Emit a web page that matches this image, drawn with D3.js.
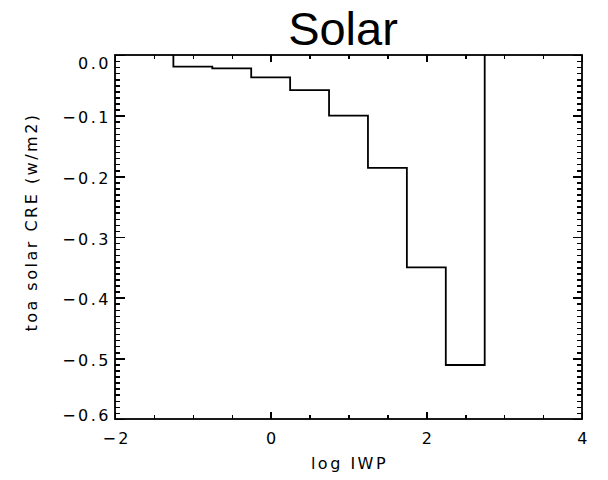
<!DOCTYPE html>
<html><head><meta charset="utf-8">
<script src="https://cdn.jsdelivr.net/npm/d3@7/dist/d3.min.js"></script>
<style>body{margin:0;background:#fff}</style>
</head><body>
<svg id="c" width="608" height="480"></svg>
<script>
// ---- data ----
const binCenters = [-1.0, -0.5, 0.0, 0.5, 1.0, 1.5, 2.0, 2.5];
const creValues  = [-0.019, -0.022, -0.037, -0.058, -0.100, -0.186, -0.350, -0.511];
const binWidth = 0.5;
const xMajorTicks = [-2, 0, 2, 4];
const xTickLabels = ["\u22122", "0", "2", "4"];
const yMajorTicks = [0.0, -0.1, -0.2, -0.3, -0.4, -0.5, -0.6];
const yTickLabels = ["0.0", "\u22120.1", "\u22120.2", "\u22120.3", "\u22120.4", "\u22120.5", "\u22120.6"];
const titleText = "Solar";
const xTitle = "log IWP";
const yTitle = "toa solar CRE (w/m2)";

// ---- layout ----
const L = 115, R = 582, T = 55, B = 419;
const svg = d3.select("#c");
const x = d3.scaleLinear().domain([-2, 4]).range([L, R]);
const y = d3.scaleLinear().domain([-0.6, 0.0]).range([B, T]);

const xMinor = d3.range(0, 13).map(i => -2 + i * 0.5).filter(v => !xMajorTicks.includes(v));
const yMinor = d3.range(0, 61).map(i => -i / 100).filter((v, i) => i % 10 !== 0);

const tickFont = "'DejaVu Sans', sans-serif";
const XMAJ = 7.3, XMIN = 3.8, YMAJ = 9.5, YMIN = 5;

function styleAxis(g) {
  g.select(".domain").remove();
  g.selectAll(".tick line").attr("stroke", "#000").attr("stroke-width", 1.5)
    .attr("shape-rendering", "crispEdges");
  g.selectAll("text").attr("font-family", tickFont).attr("font-size", 16)
    .attr("fill", "#000").attr("letter-spacing", "2.5px");
}

// bottom axis
svg.append("g").attr("transform", `translate(0,${B})`)
  .call(d3.axisBottom(x).tickValues(xMajorTicks).tickSize(-XMAJ).tickPadding(14)
    .tickFormat((d, i) => xTickLabels[i]))
  .call(styleAxis)
  .call(g => g.selectAll("text").attr("dx", "1.2px"));
svg.append("g").attr("transform", `translate(0,${B})`)
  .call(d3.axisBottom(x).tickValues(xMinor).tickSize(-XMIN).tickFormat(""))
  .call(styleAxis);
// top axis
svg.append("g").attr("transform", `translate(0,${T})`)
  .call(d3.axisTop(x).tickValues(xMajorTicks).tickSize(-XMAJ).tickFormat(""))
  .call(styleAxis);
svg.append("g").attr("transform", `translate(0,${T})`)
  .call(d3.axisTop(x).tickValues(xMinor).tickSize(-XMIN).tickFormat(""))
  .call(styleAxis);
// left axis
const nY = yMajorTicks.length;
svg.append("g").attr("transform", `translate(${L},0)`)
  .call(d3.axisLeft(y).tickValues(yMajorTicks).tickSize(-YMAJ).tickPadding(6)
    .tickFormat((d, i) => yTickLabels[i]))
  .call(styleAxis)
  .call(g => g.selectAll("text").attr("dx", "2px")
    .attr("dy", (d, i) => i === 0 ? "0.82em" : (i === nY - 1 ? "0.12em" : "0.45em")));
svg.append("g").attr("transform", `translate(${L},0)`)
  .call(d3.axisLeft(y).tickValues(yMinor).tickSize(-YMIN).tickFormat(""))
  .call(styleAxis);
// right axis
svg.append("g").attr("transform", `translate(${R},0)`)
  .call(d3.axisRight(y).tickValues(yMajorTicks).tickSize(-YMAJ).tickFormat(""))
  .call(styleAxis);
svg.append("g").attr("transform", `translate(${R},0)`)
  .call(d3.axisRight(y).tickValues(yMinor).tickSize(-YMIN).tickFormat(""))
  .call(styleAxis);

// frame
svg.append("rect").attr("x", L).attr("y", T).attr("width", R - L).attr("height", B - T)
  .attr("fill", "none").attr("stroke", "#000").attr("stroke-width", 1.8);

// step histogram
const pts = [[binCenters[0] - binWidth / 2, 0]];
binCenters.forEach((c, i) => {
  pts.push([c - binWidth / 2, creValues[i]]);
  pts.push([c + binWidth / 2, creValues[i]]);
});
pts.push([binCenters[binCenters.length - 1] + binWidth / 2, 0]);
svg.append("path").datum(pts)
  .attr("d", d3.line().x(d => x(d[0])).y(d => y(d[1])))
  .attr("fill", "none").attr("stroke", "#000").attr("stroke-width", 1.8);

// titles
svg.append("text").attr("x", 343).attr("y", 45).attr("text-anchor", "middle")
  .attr("font-family", "'Liberation Sans', Arial, sans-serif").attr("font-size", 47)
  .attr("fill", "#000").text(titleText);
svg.append("text").attr("x", (L + R) / 2 + 1).attr("y", 469).attr("text-anchor", "middle")
  .attr("font-family", tickFont).attr("font-size", 16).attr("letter-spacing", "2.5px")
  .attr("fill", "#000").text(xTitle);
svg.append("text").attr("transform", `translate(37,222) rotate(-90)`)
  .attr("text-anchor", "middle")
  .attr("font-family", tickFont).attr("font-size", 16).attr("letter-spacing", "2.5px")
  .attr("fill", "#000").text(yTitle);
</script>
</body></html>
